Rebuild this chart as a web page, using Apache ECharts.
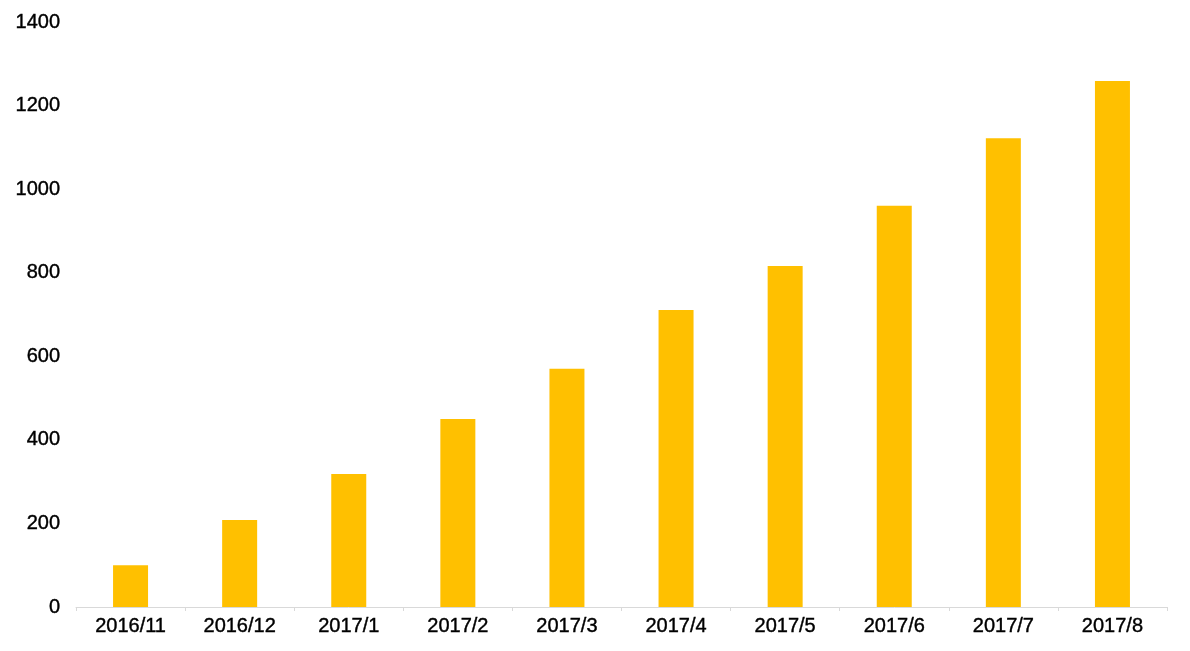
<!DOCTYPE html>
<html>
<head>
<meta charset="utf-8">
<script src="https://cdn.jsdelivr.net/npm/echarts@6/dist/echarts.min.js"></script>
<style>
html,body{margin:0;padding:0;background:#fff;}
#chart{width:1190px;height:651px;}
</style>
</head>
<body>
<div id="chart"></div>
<script>
const categories = ['2016/11','2016/12','2017/1','2017/2','2017/3','2017/4','2017/5','2017/6','2017/7','2017/8'];
const values = [100, 208, 318, 450, 570, 711, 816, 960, 1122, 1259];

const labelFont = {
  color: '#000', fontSize: 20, fontFamily: 'Liberation Sans',
  textBorderColor: '#000', textBorderWidth: 0.4
};

const chart = echarts.init(document.getElementById('chart'), null, {renderer:'canvas'});
chart.setOption({
  animation: false,
  backgroundColor: '#fff',
  grid: {left: 76, right: 23, top: 22, bottom: 44, containLabel: false},
  xAxis: {
    type: 'category',
    data: categories,
    axisLine: {show: true, lineStyle: {color: '#d9d9d9', width: 1}},
    axisTick: {show: true, alignWithLabel: false, length: 4, lineStyle: {color: '#d9d9d9'}},
    axisLabel: Object.assign({margin: 9, interval: 0}, labelFont)
  },
  yAxis: {
    type: 'value',
    min: 0, max: 1400, interval: 200,
    axisLine: {show: false},
    axisTick: {show: false},
    splitLine: {show: false},
    axisLabel: Object.assign({margin: 16, formatter: v => String(v)}, labelFont)
  },
  series: [{
    type: 'bar',
    data: values,
    barWidth: 35,
    itemStyle: {color: '#FFC000'}
  }]
});
</script>
</body>
</html>
